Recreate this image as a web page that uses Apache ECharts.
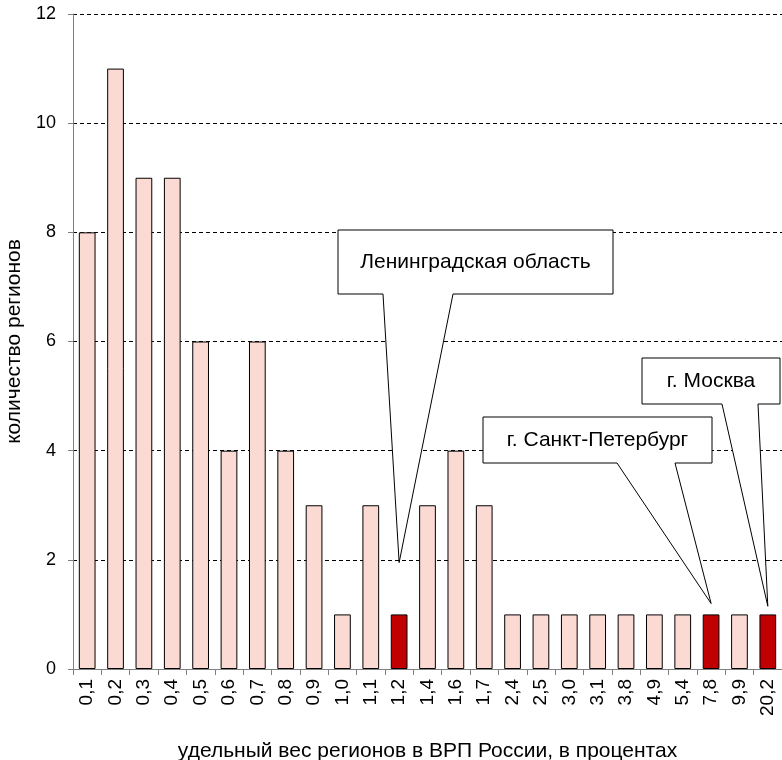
<!DOCTYPE html>
<html><head><meta charset="utf-8">
<script src="https://cdn.jsdelivr.net/npm/echarts@6/dist/echarts.min.js"></script>
<style>html,body{margin:0;padding:0;background:#fff}#c{width:782px;height:760px}</style>
</head><body><div id="c"></div>
<script>
var categories = ['0,1','0,2','0,3','0,4','0,5','0,6','0,7','0,8','0,9','1,0','1,1','1,2','1,4','1,6','1,7','2,4','2,5','3,0','3,1','3,8','4,9','5,4','7,8','9,9','20,2'];
var counts = [8,11,9,9,6,4,6,4,3,1,3,1,3,4,3,1,1,1,1,1,1,1,1,1,1];
var highlighted = ['1,2','7,8','20,2'];
var yTicks = [0,2,4,6,8,10,12];
var callouts = [
  {text:'Ленинградская область', category:'1,2', value:1.95},
  {text:'г. Санкт-Петербург', category:'7,8', value:1.2},
  {text:'г. Москва', category:'20,2', value:1.15}
];
// callout box layout (pixels): [left, top, right, bottom, wedgeLeft, wedgeRight]
var calloutBoxes = [
  [338,230,613,294,383,453],
  [483,417,712,463,617,675],
  [642,358,780,404,722,758]
];
var FONT = '"Liberation Sans", Arial, sans-serif';
var chart = echarts.init(document.getElementById('c'), null, {renderer:'canvas'});
chart.setOption({
  animation:false,
  grid:{left:73, right:0, top:14, bottom:91, containLabel:false, outerBoundsMode:'none'},
  xAxis:{type:'category', data:categories,
    axisLine:{lineStyle:{color:'#808080', width:1}},
    axisTick:{show:true, length:6, alignWithLabel:false, lineStyle:{color:'#808080'}},
    axisLabel:{rotate:90, fontSize:19, color:'#000', fontFamily:FONT, margin:10, interval:0},
    name:'удельный вес регионов в ВРП России, в процентах', nameLocation:'middle', nameGap:72,
    nameTextStyle:{fontSize:21, color:'#000', fontFamily:FONT}
  },
  yAxis:{type:'value', min:yTicks[0], max:yTicks[yTicks.length-1], interval:2,
    axisLine:{show:true, lineStyle:{color:'#808080', width:1}},
    axisTick:{show:true, length:5, lineStyle:{color:'#808080'}},
    axisLabel:{fontSize:18, color:'#000', fontFamily:FONT, margin:17},
    splitLine:{show:true, lineStyle:{color:'#000', type:[4,3], width:1}},
    name:'количество регионов', nameLocation:'middle', nameGap:45, nameRotate:90,
    nameTextStyle:{fontSize:21, color:'#000', fontFamily:FONT}
  },
  series:[{type:'bar', barCategoryGap:'41%',
    data:counts.map(function(v,i){
      var hl = highlighted.indexOf(categories[i])>=0;
      return {value:v, itemStyle:{color: hl ? '#C00000' : '#FCDAD4', borderColor:'#000', borderWidth:1}};
    })
  }]
});
var elements = [];
callouts.forEach(function(c,i){
  var tip = chart.convertToPixel({seriesIndex:0}, [c.category, c.value]);
  var b = calloutBoxes[i];
  elements.push({type:'polygon', z:100,
    shape:{points:[[b[0],b[1]],[b[2],b[1]],[b[2],b[3]],[b[5],b[3]],tip,[b[4],b[3]],[b[0],b[3]]]},
    style:{fill:'#fff', stroke:'#000', lineWidth:1}});
  elements.push({type:'text', z:101, x:(b[0]+b[2])/2, y:(b[1]+b[3])/2,
    style:{text:c.text, font:'21px '+FONT, fill:'#000', textAlign:'center', textVerticalAlign:'middle'}});
});
chart.setOption({graphic:elements});
</script>
</body></html>
